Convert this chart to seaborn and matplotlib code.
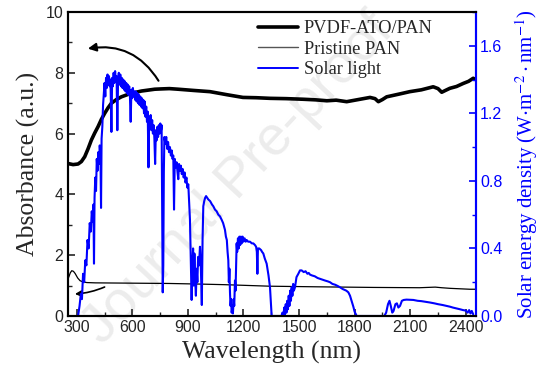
import matplotlib
matplotlib.use("Agg")
import matplotlib.pyplot as plt
from matplotlib.ticker import MultipleLocator, FormatStrFormatter
from matplotlib.lines import Line2D
import seaborn as sns
import pandas as pd

# -----------------------------------
# Data
# -----------------------------------
pvdf_wl = [250, 280, 307, 325, 343, 361, 379, 397, 415, 433, 451, 469, 487, 514, 541, 577, 613, 649,
           685, 721, 757, 800, 847, 930, 1019, 1110, 1197, 1270, 1343, 1430, 1522, 1590, 1650, 1700,
           1757, 1820, 1883, 1910, 1928, 1950, 1973, 2040, 2098, 2160, 2224, 2250, 2270, 2290, 2314,
           2350, 2386, 2415, 2440, 2452]
pvdf_abs = [5.02, 4.98, 5.00, 5.08, 5.24, 5.50, 5.79, 6.02, 6.23, 6.47, 6.67, 6.85, 7.00, 7.12, 7.21,
            7.29, 7.35, 7.40, 7.43, 7.46, 7.47, 7.48, 7.46, 7.42, 7.38, 7.28, 7.19, 7.18, 7.16, 7.15,
            7.13, 7.11, 7.08, 7.10, 7.05, 7.12, 7.19, 7.15, 7.05, 7.12, 7.21, 7.30, 7.38, 7.44, 7.54,
            7.48, 7.36, 7.42, 7.49, 7.55, 7.65, 7.72, 7.82, 7.78]

pan_wl = [250, 258, 265, 273, 282, 291, 305, 318, 335, 354, 400, 600, 800, 965, 1100, 1343, 1600,
          1900, 2150, 2235, 2270, 2315, 2422, 2455]
pan_abs = [1.18, 1.30, 1.42, 1.49, 1.47, 1.40, 1.25, 1.16, 1.12, 1.10, 1.09, 1.08, 1.07, 1.05, 1.03,
           0.98, 0.96, 0.94, 0.93, 0.95, 0.93, 0.91, 0.88, 0.88]

solar_wl = [300, 307, 315, 322, 328, 334, 340, 346, 352, 358, 364, 370, 376, 381, 386, 390, 393,
            396, 400, 404, 408, 412, 416, 420, 424, 428, 431, 434, 438, 442, 446, 450, 454, 458,
            462, 466, 470, 474, 478, 482, 487, 491, 495, 499, 503, 507, 511, 515, 519, 523, 527,
            531, 535, 539, 543, 547, 551, 555, 559, 563, 567, 571, 575, 579, 583, 587, 591, 595,
            599, 603, 607, 611, 615, 619, 623, 627, 631, 635, 639, 643, 647, 651, 655, 659, 663,
            667, 671, 675, 679, 683, 687, 691, 695, 699, 703, 707, 711, 715, 719, 723, 727, 731,
            735, 739, 743, 747, 751, 755, 758, 761, 764, 767, 770, 773, 778, 783, 788, 793, 798,
            803, 808, 813, 817, 821, 825, 829, 834, 839, 844, 848, 852, 857, 862, 867, 872, 877,
            882, 887, 892, 897, 902, 906, 911, 915, 920, 924, 928, 931, 935, 939, 943, 947, 951,
            955, 960, 965, 970, 975, 979, 983, 988, 993, 998, 1010, 1020, 1030, 1037, 1046, 1055,
            1064, 1073, 1082, 1090, 1095, 1100, 1105, 1110, 1114, 1118, 1121, 1124, 1127, 1130,
            1133, 1136, 1140, 1143, 1147, 1150, 1154, 1157, 1160, 1163, 1166, 1170, 1174, 1178,
            1182, 1186, 1190, 1195, 1200, 1206, 1212, 1217, 1225, 1235, 1245, 1253, 1262, 1268,
            1272, 1275, 1278, 1285, 1295, 1300, 1307, 1315, 1325, 1335, 1343, 1348, 1352, 1380,
            1405, 1410, 1415, 1420, 1424, 1428, 1432, 1436, 1440, 1444, 1448, 1452, 1456, 1460,
            1464, 1468, 1472, 1478, 1486, 1496, 1505, 1514, 1525, 1535, 1545, 1552, 1559, 1570,
            1585, 1600, 1613, 1625, 1640, 1655, 1667, 1680, 1695, 1708, 1721, 1735, 1745, 1755,
            1766, 1775, 1785, 1793, 1800, 1811, 1900, 1960, 1970, 1980, 1988, 1995, 2003, 2010,
            2020, 2028, 2036, 2045, 2055, 2065, 2080, 2100, 2117, 2140, 2160, 2185, 2206, 2230,
            2250, 2275, 2296, 2315, 2330, 2350, 2368, 2385, 2400, 2410, 2418, 2425, 2432, 2440]
solar_pow = [0.0, 0.0, 0.06, 0.13, 0.10, 0.25, 0.20, 0.33, 0.30, 0.45, 0.40, 0.55, 0.50, 0.62,
             0.56, 0.66, 0.31, 0.70, 0.82, 0.74, 0.93, 0.86, 0.97, 0.90, 1.01, 0.95, 0.64, 1.05,
             1.12, 1.25, 1.32, 1.38, 1.30, 1.41, 1.35, 1.43, 1.37, 1.42, 1.36, 1.40, 1.09, 1.41,
             1.36, 1.44, 1.38, 1.45, 1.39, 1.42, 1.10, 1.40, 1.44, 1.37, 1.43, 1.36, 1.41, 1.35,
             1.40, 1.34, 1.39, 1.33, 1.38, 1.32, 1.37, 1.31, 1.36, 1.30, 1.15, 1.34, 1.29, 1.35,
             1.30, 1.33, 1.28, 1.33, 1.27, 1.32, 1.26, 1.31, 1.25, 1.30, 1.24, 1.29, 1.23, 1.28,
             1.20, 1.27, 1.18, 1.24, 1.15, 1.21, 0.88, 1.18, 1.12, 1.19, 1.10, 1.16, 1.08, 1.13,
             1.05, 0.90, 1.10, 1.04, 1.12, 1.06, 1.13, 1.08, 1.14, 1.10, 1.13, 0.60, 0.14, 0.30,
             0.85, 1.06, 1.02, 1.06, 0.99, 1.03, 0.97, 1.00, 0.95, 0.98, 0.93, 0.95, 0.63, 0.93,
             0.88, 0.91, 0.85, 0.81, 0.90, 0.86, 0.89, 0.84, 0.87, 0.82, 0.85, 0.79, 0.82, 0.76,
             0.78, 0.68, 0.57, 0.35, 0.095, 0.30, 0.40, 0.18, 0.37, 0.22, 0.12, 0.28, 0.20, 0.35,
             0.30, 0.41, 0.28, 0.065, 0.45, 0.65, 0.68, 0.70, 0.71, 0.69, 0.68, 0.66, 0.65, 0.63,
             0.62, 0.60, 0.59, 0.57, 0.55, 0.53, 0.51, 0.47, 0.45, 0.38, 0.33, 0.20, 0.28, 0.14,
             0.06, 0.10, 0.02, 0.05, 0.015, 0.10, 0.06, 0.21, 0.15, 0.30, 0.43, 0.38, 0.46, 0.40,
             0.47, 0.42, 0.47, 0.43, 0.47, 0.44, 0.46, 0.44, 0.45, 0.44, 0.44, 0.43, 0.43, 0.42,
             0.41, 0.38, 0.25, 0.40, 0.40, 0.39, 0.38, 0.37, 0.34, 0.31, 0.24, 0.17, 0.08, 0.0,
             0.0, 0.0, 0.02, 0.0, 0.05, 0.01, 0.07, 0.02, 0.09, 0.04, 0.12, 0.06, 0.15, 0.09, 0.17,
             0.12, 0.19, 0.15, 0.17, 0.23, 0.25, 0.27, 0.27, 0.26, 0.265, 0.25, 0.255, 0.245, 0.24,
             0.235, 0.225, 0.22, 0.215, 0.21, 0.205, 0.20, 0.19, 0.185, 0.178, 0.17, 0.16, 0.155,
             0.15, 0.14, 0.12, 0.085, 0.055, 0.025, 0.0, 0.0, 0.0, 0.02, 0.07, 0.09, 0.06, 0.02,
             0.03, 0.07, 0.075, 0.05, 0.06, 0.09, 0.095, 0.097, 0.096, 0.095, 0.09, 0.088, 0.084,
             0.08, 0.075, 0.07, 0.065, 0.06, 0.055, 0.05, 0.045, 0.04, 0.035, 0.032, 0.02, 0.035,
             0.015, 0.03, 0.01]

labels = ["PVDF-ATO/PAN", "Pristine PAN", "Solar light"]

pvdf = pd.DataFrame({"wl": pvdf_wl, "val": pvdf_abs})
pan = pd.DataFrame({"wl": pan_wl, "val": pan_abs})
solar = pd.DataFrame({"wl": solar_wl, "val": solar_pow})

# -----------------------------------
# Style
# -----------------------------------
sns.set_style("ticks")
plt.rcParams["font.family"] = ["Liberation Sans", "DejaVu Sans"]
plt.rcParams["mathtext.fontset"] = "stix"
plt.rcParams["xtick.direction"] = "in"
plt.rcParams["ytick.direction"] = "in"

SERIF = ["Liberation Serif", "DejaVu Serif"]
BLUE = "#0000ff"

fig = plt.figure(figsize=(5.54, 3.74), dpi=100)
ax = fig.add_axes([67.5 / 554, 1 - 316 / 374, (476 - 67.5) / 554, (316 - 12) / 374])
ax2 = ax.twinx()

# watermark
ax.text(0.43, 0.52, "Journal Pre-proof", transform=fig.transFigure, rotation=47,
        fontsize=40, color="#ececec", ha="center", va="center", zorder=0.5, clip_on=False)

sns.lineplot(data=pvdf, x="wl", y="val", ax=ax, color="black", lw=2.6,
             estimator=None, sort=False, zorder=3)
sns.lineplot(data=pan, x="wl", y="val", ax=ax, color="black", lw=0.9,
             estimator=None, sort=False, zorder=3)
sns.lineplot(data=solar, x="wl", y="val", ax=ax2, color=BLUE, lw=1.5,
             estimator=None, sort=False, zorder=2)

ax.set_xlim(250, 2455)
ax.set_ylim(0, 10)
ax2.set_ylim(0, 1.8)

ax.set_xticks([300, 600, 900, 1200, 1500, 1800, 2100, 2400])
ax.xaxis.set_minor_locator(MultipleLocator(150))
ax.yaxis.set_major_locator(MultipleLocator(2))
ax.yaxis.set_minor_locator(MultipleLocator(1))
ax2.yaxis.set_major_locator(MultipleLocator(0.4))
ax2.yaxis.set_minor_locator(MultipleLocator(0.2))
ax2.yaxis.set_major_formatter(FormatStrFormatter("%.1f"))

ax.tick_params(axis="both", which="major", length=5, width=1.2, labelsize=11.5, pad=3)
ax.tick_params(axis="both", which="minor", length=3, width=1.0)
ax.tick_params(axis="x", top=False, which="both")
ax.tick_params(axis="y", right=False, which="both")
ax2.tick_params(axis="y", which="major", length=5, width=1.2, labelsize=11.5,
                colors=BLUE, pad=3)
ax2.tick_params(axis="y", which="minor", length=3, width=1.0, colors=BLUE)

for a in (ax, ax2):
    for s in a.spines.values():
        s.set_linewidth(1.5)
        s.set_color("black")
ax2.spines["right"].set_color(BLUE)
ax.spines["right"].set_color(BLUE)

ax.set_xlabel("Wavelength (nm)", fontsize=18.5, family=SERIF, labelpad=4)
ax.set_ylabel("Absorbance (a.u.)", fontsize=18.5, family=SERIF, labelpad=4)
ax2.set_ylabel(r"Solar energy density (W$\cdot$m$^{-2}\cdot$nm$^{-1}$)", fontsize=15,
               family=SERIF, color=BLUE, labelpad=8)

# arrows
ax.annotate("", xy=(345, 8.78), xytext=(749, 7.66),
            arrowprops=dict(arrowstyle="-|>", color="black", lw=1.5,
                            connectionstyle="arc3,rad=0.35", mutation_scale=12))
ax.annotate("", xy=(275, 0.72), xytext=(464, 0.99),
            arrowprops=dict(arrowstyle="-|>", color="black", lw=1.2,
                            connectionstyle="arc3,rad=-0.1", mutation_scale=9))

handles = [Line2D([], [], color="black", lw=2.6),
           Line2D([], [], color="#555555", lw=1.0),
           Line2D([], [], color=BLUE, lw=1.4)]
leg = ax2.legend(handles, labels, loc="upper left", bbox_to_anchor=(258 / 554, 1 - 20 / 374),
                 bbox_transform=fig.transFigure, frameon=False, handlelength=2.2,
                 handletextpad=0.3, labelspacing=0.2, borderaxespad=0, borderpad=0,
                 prop={"family": SERIF, "size": 13.2})

fig.savefig("out.png", dpi=100)
